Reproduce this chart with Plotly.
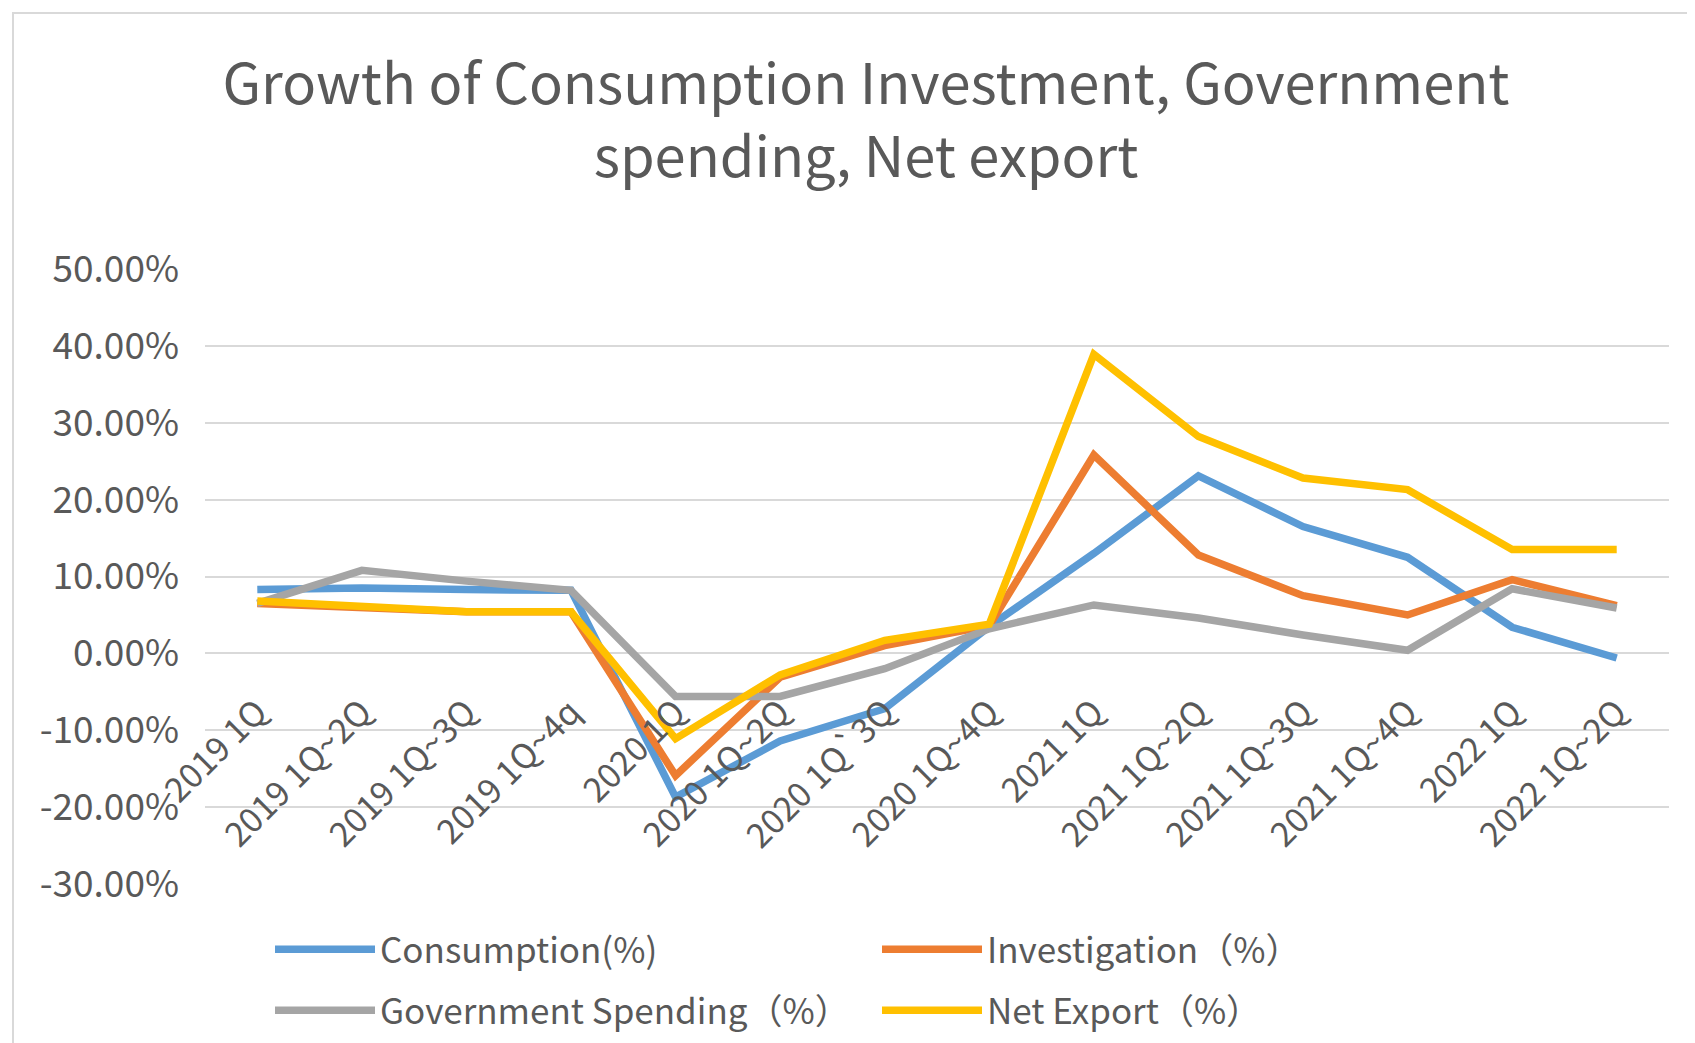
import plotly.graph_objects as go

quarters = ["2019 1Q", "2019 1Q~2Q", "2019 1Q~3Q", "2019 1Q~4q",
            "2020 1Q", "2020 1Q~2Q", "2020 1Q`3Q", "2020 1Q~4Q",
            "2021 1Q", "2021 1Q~2Q", "2021 1Q~3Q", "2021 1Q~4Q",
            "2022 1Q", "2022 1Q~2Q"]

consumption = [8.3, 8.5, 8.3, 8.2, -18.7, -11.4, -7.2, 3.5, 13.0, 23.1, 16.5, 12.5, 3.4, -0.6]
investigation = [6.5, 6.0, 5.4, 5.4, -15.9, -3.1, 1.0, 3.6, 25.8, 12.8, 7.5, 5.0, 9.6, 6.2]
government = [6.5, 10.8, 9.4, 8.2, -5.6, -5.6, -2.0, 3.2, 6.3, 4.6, 2.4, 0.4, 8.4, 5.9]
net_export = [6.8, 6.2, 5.4, 5.4, -11.1, -2.8, 1.7, 3.8, 38.9, 28.2, 22.8, 21.3, 13.5, 13.5]

y_ticks = [-30, -20, -10, 0, 10, 20, 30, 40, 50]
y_tick_labels = ["-30.00%", "-20.00%", "-10.00%", "0.00%", "10.00%",
                 "20.00%", "30.00%", "40.00%", "50.00%"]

# name, values, colour, legend row
series = [
    ("Consumption(%)", consumption, "#5B9BD5", "legend"),
    ("Investigation\uff08%\uff09", investigation, "#ED7D31", "legend"),
    ("Government Spending\uff08%\uff09", government, "#A5A5A5", "legend2"),
    ("Net Export\uff08%\uff09", net_export, "#FFC000", "legend2"),
]

FONT = "Noto Sans CJK SC, Noto Sans, sans-serif"
TEXT = "#595959"

fig = go.Figure()
for name, vals, color, leg in series:
    fig.add_trace(go.Scatter(
        x=quarters, y=vals, name=name, mode="lines", legend=leg,
        line=dict(color=color, width=7.5),
    ))

# the page body adds an 8px offset, so the figure is drawn 8px smaller
W, H = 1687, 1035
L, R, T, B = 197, 26, 261, 159
pw, ph = W - L - R, H - T - B
plot_bottom = H - B


def leg(top_px):
    return dict(
        orientation="h", xref="container", yref="container",
        x=262 / W, xanchor="left",
        y=1 - top_px / H, yanchor="top",
        entrywidth=492, entrywidthmode="pixels",
        font=dict(size=35, color=TEXT, family=FONT), itemwidth=100,
        bgcolor="rgba(0,0,0,0)",
    )


fig.update_layout(
    width=W, height=H,
    margin=dict(l=L, r=R, t=T, b=B, autoexpand=False),
    paper_bgcolor="white", plot_bgcolor="white",
    font=dict(family=FONT, color=TEXT),
    title=dict(
        text="Growth of Consumption Investment, Government<br>spending, Net export",
        x=858 / W, xanchor="center", xref="container",
        y=1 - 96 / H, yanchor="top", yref="container",
        font=dict(size=56, color=TEXT, family=FONT),
    ),
    xaxis=dict(
        type="category", range=[-0.5, len(quarters) - 0.5],
        showgrid=False, showline=False, zeroline=False, ticks="",
        tickangle=-45, tickfont=dict(size=34, color=TEXT),
        anchor="free", position=30 / 80, ticklabelstandoff=31,
    ),
    yaxis=dict(
        range=[-30, 50], tickvals=y_ticks, ticktext=y_tick_labels,
        showgrid=True, gridcolor="#D9D9D9", gridwidth=2,
        zeroline=False, showline=False, ticks="",
        tickfont=dict(size=37, color=TEXT), ticklabelstandoff=25,
    ),
    legend=leg(912),
    legend2=leg(973),
    showlegend=True,
    shapes=[dict(
        type="rect", xref="paper", yref="paper",
        x0=(5 - L) / pw, x1=(W + 10 - L) / pw,
        y0=-(B + 10) / ph, y1=(plot_bottom - 5) / ph,
        line=dict(color="#D9D9D9", width=2), layer="below",
    )],
)

fig.write_html("out.html")
